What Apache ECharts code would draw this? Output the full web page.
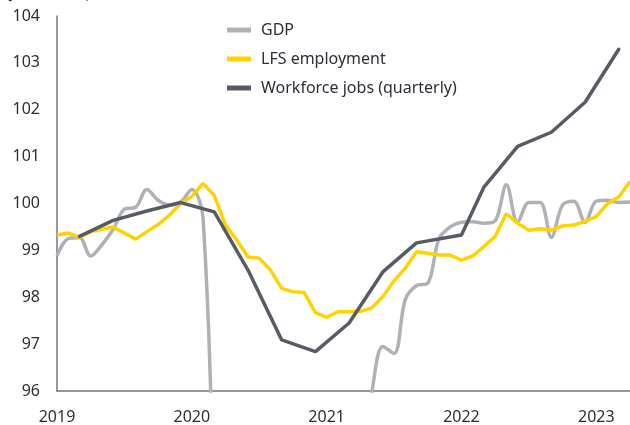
<!DOCTYPE html>
<html>
<head>
<meta charset="utf-8">
<script src="https://cdn.jsdelivr.net/npm/echarts@6/dist/echarts.min.js"></script>
<style>
html,body{margin:0;padding:0;background:#fff;}
#chart{width:630px;height:425px;}
</style>
</head>
<body>
<div id="chart"></div>
<script>
// Months since Jan 2019 (0 = Jan 2019)
const yearLabels = ['2019', '2020', '2021', '2022', '2023'];
const subtitleText = 'Jan 2019, Q4 2019 = 100';

// GDP, monthly, Jan 2019 .. Apr 2023
const gdpValues = [
  98.88, 99.25, 99.27, 98.88, 99.12, 99.45, 99.88, 99.92, 100.30, 100.07, 99.97, 100.03,
  100.30, 99.70, 92.5, 75.0, 78.0, 84.0, 90.5, 92.5, 93.5, 94.0, 91.5, 93.0,
  90.0, 91.0, 93.0, 94.6, 95.95, 96.95, 96.80, 97.95, 98.25, 98.30, 99.25, 99.50,
  99.60, 99.61, 99.58, 99.63, 100.40, 99.60, 100.02, 100.02, 99.28, 99.97, 100.05, 99.60,
  100.05, 100.07, 100.02, 100.03
];

// LFS employment, monthly, Jan 2019 .. Apr 2023
const lfsValues = [
  99.33, 99.37, 99.28, 99.40, 99.45, 99.50, 99.37, 99.24, 99.40, 99.55, 99.75, 100.00,
  100.15, 100.43, 100.17, 99.54, 99.22, 98.86, 98.83, 98.58, 98.19, 98.12, 98.10, 97.67,
  97.57, 97.69, 97.69, 97.70, 97.77, 98.01, 98.35, 98.62, 98.97, 98.94, 98.90, 98.90,
  98.79, 98.88, 99.08, 99.30, 99.78, 99.58, 99.43, 99.46, 99.43, 99.52, 99.54, 99.62,
  99.72, 100.00, 100.14, 100.47
];

// Workforce jobs, quarterly
const wfjMonths = [2, 5, 8, 11, 14, 17, 20, 23, 26, 29, 32, 36, 38, 41, 44, 47, 50];
const wfjValues = [99.30, 99.64, 99.84, 100.02, 99.82, 98.58, 97.09, 96.84, 97.45, 98.54, 99.16, 99.33, 100.35, 101.22, 101.52, 102.16, 103.29];

const seriesNames = ['GDP', 'LFS employment', 'Workforce jobs (quarterly)'];
const seriesColors = ['#aeb1b6', '#ffd200', '#565b64'];

const gdpData = gdpValues.map((v, i) => [i, v]);
const lfsData = lfsValues.map((v, i) => [i, v]);
const wfjData = wfjValues.map((v, i) => [wfjMonths[i], v]);

const FONT = 'Noto Sans';
const TXT = '#2e2e38';

const chart = echarts.init(document.getElementById('chart'), null, {renderer: 'canvas'});
chart.setOption({
  animation: false,
  backgroundColor: '#ffffff',
  graphic: [{
    type: 'text', left: 10, top: -14,
    style: {text: subtitleText, font: '15px "' + FONT + '"', fill: TXT}
  }],
  grid: {left: 57, right: 0, top: 16, bottom: 34, containLabel: false},
  legend: {
    orient: 'vertical', left: 222, top: 16, padding: 5, itemWidth: 24, itemHeight: 5, itemGap: 11,
    icon: 'rect',
    data: seriesNames,
    textStyle: {fontFamily: FONT, fontSize: 16, color: TXT, lineHeight: 18, padding: [0, 0, 0, 5]}
  },
  xAxis: {
    type: 'value', min: 0, max: 51, interval: 12,
    axisLine: {show: true, lineStyle: {color: '#747480', width: 1.5}},
    axisTick: {show: false}, splitLine: {show: false},
    axisLabel: {
      margin: 18, fontFamily: FONT, fontSize: 16, color: TXT,
      formatter: v => yearLabels[Math.round(v / 12)] || ''
    }
  },
  yAxis: {
    type: 'value', min: 96, max: 104, interval: 1,
    axisLine: {show: true, lineStyle: {color: '#747480', width: 1.5}},
    axisTick: {show: false}, splitLine: {show: false},
    axisLabel: {margin: 17, fontFamily: FONT, fontSize: 16, color: TXT}
  },
  series: [
    {name: seriesNames[0], type: 'line', data: gdpData, smooth: 0.35, showSymbol: false, clip: true,
     itemStyle: {color: seriesColors[0]}, lineStyle: {color: seriesColors[0], width: 3.5}, z: 2},
    {name: seriesNames[1], type: 'line', data: lfsData, showSymbol: false, clip: true,
     itemStyle: {color: seriesColors[1]}, lineStyle: {color: seriesColors[1], width: 3.5}, z: 3},
    {name: seriesNames[2], type: 'line', data: wfjData, showSymbol: false, clip: true,
     itemStyle: {color: seriesColors[2]}, lineStyle: {color: seriesColors[2], width: 3.5, cap: 'round'}, z: 4}
  ]
});
</script>
</body>
</html>
